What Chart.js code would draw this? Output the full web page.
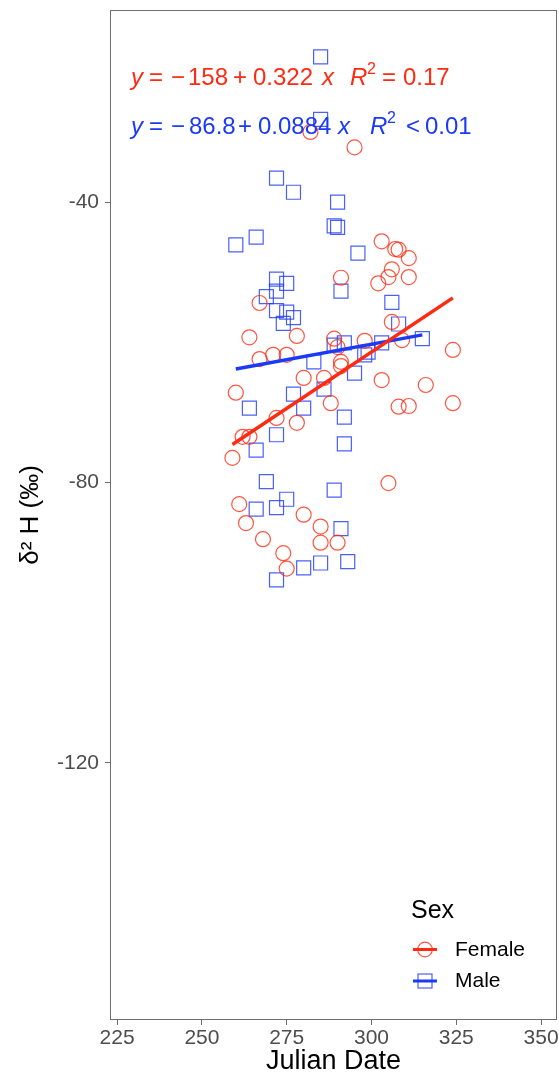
<!DOCTYPE html>
<html>
<head>
<meta charset="utf-8">
<script src="https://cdn.jsdelivr.net/npm/chart.js@4/dist/chart.umd.min.js"></script>
<style>
  html, body { margin: 0; padding: 0; background: #ffffff; }
  #chart { display: block; }
</style>
</head>
<body>
<canvas id="chart" width="559" height="1080"></canvas>
<script>
// Tick labels
const xTicks = [225, 250, 275, 300, 325, 350];
const yTicks = [-40, -80, -120];

// Female birds: Julian date and feather δ2H (‰)
const femaleDate = [282, 295, 303, 307, 308, 311, 291, 306, 305, 311, 302, 267, 306, 264, 278, 289, 290,
  298, 309, 324, 267, 271, 275, 291, 291, 280, 286, 303, 316, 260, 288, 308, 311, 324, 272, 278,
  262, 264, 259, 305, 261, 280, 263, 285, 285, 290, 268, 274, 275];
const femaleD2H = [-30.0, -32.2, -45.6, -46.7, -46.8, -48.0, -50.8, -49.6, -50.7, -50.7, -51.6, -54.4, -57.1,
  -59.3, -59.1, -59.5, -60.7, -59.8, -59.7, -61.1, -62.4, -61.8, -61.8, -62.8, -63.4, -65.1, -65.1,
  -65.4, -66.1, -67.2, -68.7, -69.2, -69.1, -68.7, -70.8, -71.5, -73.5, -73.5, -76.5, -80.1, -83.1,
  -84.6, -85.8, -86.3, -88.6, -88.6, -88.1, -90.1, -92.3];

// Male birds: Julian date and feather δ2H (‰)
const maleDate = [285, 285, 272, 277, 290, 289, 290, 260, 266, 296, 272, 275, 272, 269, 291, 306, 272,
  275, 277, 274, 308, 289, 292, 303, 299, 298, 315, 283, 295, 286, 277, 264, 280, 292, 272, 292,
  266, 269, 289, 266, 272, 275, 291, 280, 285, 293, 272];
const maleD2H = [-19.3, -28.2, -36.6, -38.6, -40.0, -43.4, -43.6, -46.1, -45.0, -47.3, -51.0, -51.6, -52.7,
  -53.5, -52.7, -54.3, -55.5, -55.7, -56.5, -57.3, -57.4, -60.4, -60.1, -60.1, -61.4, -61.8, -59.5,
  -62.8, -64.4, -66.7, -67.4, -69.4, -69.4, -70.7, -73.2, -74.5, -75.4, -79.9, -81.1, -83.8, -83.6,
  -82.4, -86.6, -92.2, -91.5, -91.3, -93.9];

// Linear fits: [intercept, slope] and R² text
const femaleFit = [-158, 0.322];
const maleFit = [-86.8, 0.0884];
const femaleR2 = ['=', '0.17'];
const maleR2 = ['<', '0.01'];

const RED = '#ff2a12';
const BLUE = '#1b3af5';
const FONT = '"Liberation Sans", Arial, Helvetica, sans-serif';

function toPoints(xs, ys) {
  return xs.map((x, i) => ({ x: x, y: ys[i] }));
}
function fitLine(xs, coef) {
  const lo = Math.min(...xs), hi = Math.max(...xs);
  return [lo, hi].map(x => ({ x: x, y: coef[0] + coef[1] * x }));
}
// Edge tick labels may hang past the panel; keep the panel at its full size
function zeroPadding() {
  this.paddingLeft = 0; this.paddingRight = 0; this.paddingTop = 0; this.paddingBottom = 0;
}

// Panel border, fit equations and the legend
const decorations = {
  id: 'decorations',
  afterDraw(chart) {
    const ctx = chart.ctx;
    const a = chart.chartArea;
    ctx.save();
    ctx.strokeStyle = '#6e6e6e';
    ctx.lineWidth = 1;
    ctx.strokeRect(a.left + 0.5, a.top + 0.5, a.right - a.left - 1, a.bottom - a.top - 1);

    function runs(list, y, color) {
      ctx.fillStyle = color;
      ctx.textBaseline = 'alphabetic';
      ctx.textAlign = 'left';
      list.forEach(r => {
        const size = r.sup ? 16 : 24;
        ctx.font = (r.it ? 'italic ' : '') + size + 'px ' + FONT;
        ctx.fillText(r.t, r.x, r.sup ? y - 11 : y);
      });
    }
    runs([
      { t: 'y', x: 131, it: true }, { t: '=', x: 149 }, { t: '\u2212', x: 171 },
      { t: String(Math.abs(femaleFit[0])), x: 188 }, { t: '+', x: 233 },
      { t: String(femaleFit[1]), x: 253 }, { t: 'x', x: 322, it: true },
      { t: 'R', x: 350, it: true }, { t: '2', x: 367, sup: true },
      { t: femaleR2[0], x: 382 }, { t: femaleR2[1], x: 403 }
    ], 85, RED);
    runs([
      { t: 'y', x: 131, it: true }, { t: '=', x: 149 }, { t: '\u2212', x: 171 },
      { t: String(Math.abs(maleFit[0])), x: 189 }, { t: '+', x: 238 },
      { t: String(maleFit[1]), x: 258 }, { t: 'x', x: 338, it: true },
      { t: 'R', x: 370, it: true }, { t: '2', x: 387, sup: true },
      { t: maleR2[0], x: 406 }, { t: maleR2[1], x: 425 }
    ], 134, BLUE);

    // Legend
    ctx.fillStyle = '#000000';
    ctx.font = '25px ' + FONT;
    ctx.textBaseline = 'alphabetic';
    ctx.fillText('Sex', 411, 918);
    ctx.font = '21px ' + FONT;
    ctx.textBaseline = 'middle';
    ctx.fillText('Female', 455, 950);
    ctx.fillText('Male', 455, 981);

    ctx.lineWidth = 3;
    ctx.strokeStyle = RED;
    ctx.beginPath(); ctx.moveTo(413, 949.5); ctx.lineTo(437, 949.5); ctx.stroke();
    ctx.lineWidth = 1.2;
    ctx.strokeStyle = 'rgba(255,42,18,0.8)';
    ctx.beginPath(); ctx.arc(425, 949.5, 7.3, 0, Math.PI * 2); ctx.stroke();

    ctx.lineWidth = 3;
    ctx.strokeStyle = BLUE;
    ctx.beginPath(); ctx.moveTo(413, 981); ctx.lineTo(437, 981); ctx.stroke();
    ctx.lineWidth = 1.2;
    ctx.strokeStyle = 'rgba(27,58,245,0.8)';
    ctx.strokeRect(418, 974, 14, 14);
    ctx.restore();
  }
};

new Chart(document.getElementById('chart'), {
  type: 'scatter',
  data: {
    datasets: [
      {
        label: 'Female fit', type: 'line', data: fitLine(femaleDate, femaleFit),
        borderColor: RED, borderWidth: 3.5, pointRadius: 0, fill: false, order: 0
      },
      {
        label: 'Male fit', type: 'line', data: fitLine(maleDate, maleFit),
        borderColor: BLUE, borderWidth: 3.5, pointRadius: 0, fill: false, order: 0
      },
      {
        label: 'Female', data: toPoints(femaleDate, femaleD2H),
        pointStyle: 'circle', pointRadius: 7.5, borderWidth: 1.2,
        borderColor: 'rgba(255,42,18,0.8)', backgroundColor: 'rgba(0,0,0,0)', order: 1
      },
      {
        label: 'Male', data: toPoints(maleDate, maleD2H),
        pointStyle: 'rect', pointRadius: 9.9, borderWidth: 1.2,
        borderColor: 'rgba(27,58,245,0.8)', backgroundColor: 'rgba(0,0,0,0)', order: 1
      }
    ]
  },
  options: {
    responsive: false,
    devicePixelRatio: 1,
    animation: false,
    layout: { autoPadding: false, padding: { top: 10, right: 2, left: 0, bottom: 0 } },
    plugins: { legend: { display: false }, tooltip: { enabled: false } },
    scales: {
      x: {
        type: 'linear', min: 222.9, max: 354.7,
        afterBuildTicks: s => { s.ticks = xTicks.map(v => ({ value: v })); s._calculatePadding = zeroPadding; },
        afterFit: s => { s.height = 60; },
        border: { display: false },
        grid: { drawOnChartArea: false, drawTicks: true, tickLength: 5, color: '#6e6e6e' },
        ticks: { color: '#4d4d4d', font: { family: FONT, size: 21 }, padding: 1, maxRotation: 0 },
        title: { display: true, text: 'Julian Date', color: '#000000',
                 font: { family: FONT, size: 27 }, padding: { top: 0, bottom: 2 } }
      },
      y: {
        type: 'linear', min: -156.7, max: -12.6,
        afterBuildTicks: s => { s.ticks = yTicks.map(v => ({ value: v })); s._calculatePadding = zeroPadding; },
        afterFit: s => { s.width = 110; },
        border: { display: false },
        grid: { drawOnChartArea: false, drawTicks: true, tickLength: 5, color: '#6e6e6e' },
        ticks: { color: '#4d4d4d', font: { family: FONT, size: 21 }, padding: 6 },
        title: { display: true, text: 'δ² H (‰)', color: '#000000',
                 font: { family: FONT, size: 26 }, padding: { top: 15, bottom: 0 } }
      }
    }
  },
  plugins: [decorations]
});
</script>
</body>
</html>
